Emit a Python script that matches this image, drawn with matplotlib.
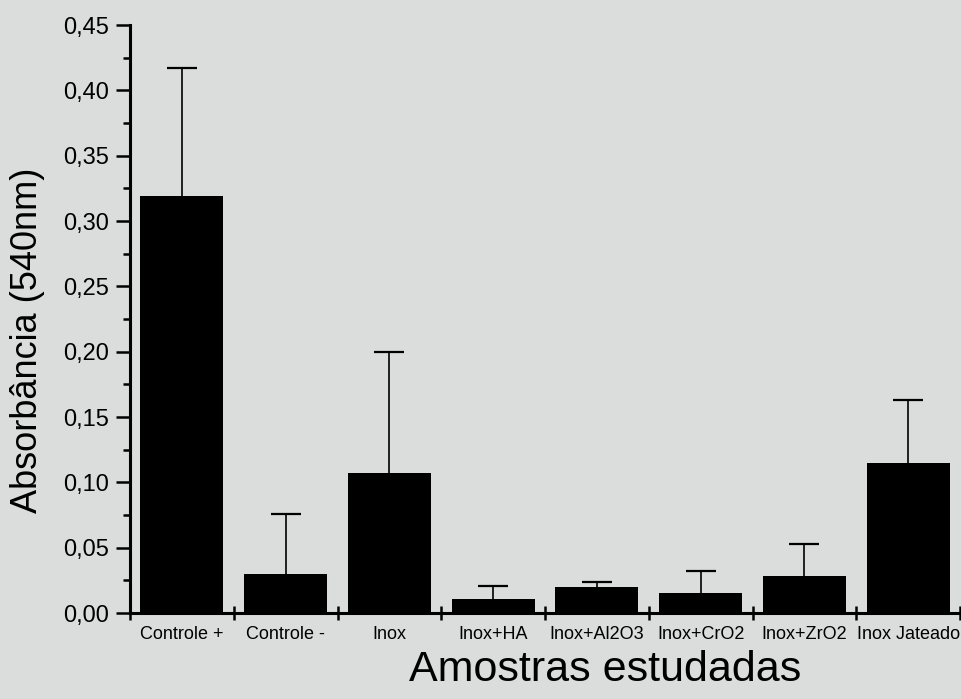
import matplotlib
matplotlib.use("Agg")
import matplotlib.pyplot as plt
import numpy as np
from matplotlib.ticker import FixedLocator, MultipleLocator, FuncFormatter

# Absorbance readings per sample group (mean and upper error)
samples = ["Controle +", "Controle -", "Inox", "Inox+HA", "Inox+Al2O3",
           "Inox+CrO2", "Inox+ZrO2", "Inox Jateado"]
absorbance = [0.319, 0.030, 0.107, 0.011, 0.020, 0.015, 0.028, 0.115]
error_up = [0.098, 0.046, 0.093, 0.010, 0.004, 0.017, 0.025, 0.048]
y_ticks = [0.00, 0.05, 0.10, 0.15, 0.20, 0.25, 0.30, 0.35, 0.40, 0.45]

plt.rcParams["font.family"] = ["Liberation Sans", "DejaVu Sans"]
bg = "#dadddb"

fig = plt.figure(figsize=(9.61, 6.99), dpi=100, facecolor=bg)
ax = fig.add_axes([0.1353, 0.123, 0.8637, 0.841])
ax.set_facecolor(bg)

x = np.arange(len(samples))
ax.bar(x, absorbance, width=0.8, color="black", zorder=2)
eb = ax.errorbar(x, absorbance, yerr=[np.zeros(len(samples)), error_up],
                 fmt="none", ecolor="black", elinewidth=1.2, capsize=11,
                 capthick=1.6, zorder=1)
# only the upper cap is wanted
eb[1][0].set_visible(False)

ax.set_xlim(-0.5, len(samples) - 0.5)
ax.set_ylim(0, 0.45)

# Spines: only left and bottom
for side in ["top", "right"]:
    ax.spines[side].set_visible(False)
for side in ["left", "bottom"]:
    ax.spines[side].set_linewidth(2.2)

# Y axis ticks
ax.yaxis.set_major_locator(FixedLocator(y_ticks))
ax.yaxis.set_minor_locator(MultipleLocator(0.025))
ax.yaxis.set_major_formatter(FuncFormatter(lambda v, p: f"{v:.2f}".replace(".", ",")))
ax.tick_params(axis="y", which="major", direction="out", length=10, width=1.8,
               labelsize=17, pad=5)
ax.tick_params(axis="y", which="minor", direction="out", length=5, width=1.8)

# X axis: labels at bar centres, tick marks at group boundaries
ax.set_xticks(x)
ax.set_xticklabels(samples)
ax.set_xticks(np.arange(len(samples) + 1) - 0.5, minor=True)
ax.tick_params(axis="x", which="major", length=0, labelsize=13, pad=9)
ax.tick_params(axis="x", which="minor", direction="inout", length=10, width=1.8)

fig.text(0.029, 0.513, "Absorbância (540nm)", rotation=90, ha="center",
         va="center", fontsize=26)
fig.text(0.63, 0.041, "Amostras estudadas", ha="center", va="center",
         fontsize=31)

fig.savefig("out.png", dpi=100, facecolor=bg)
